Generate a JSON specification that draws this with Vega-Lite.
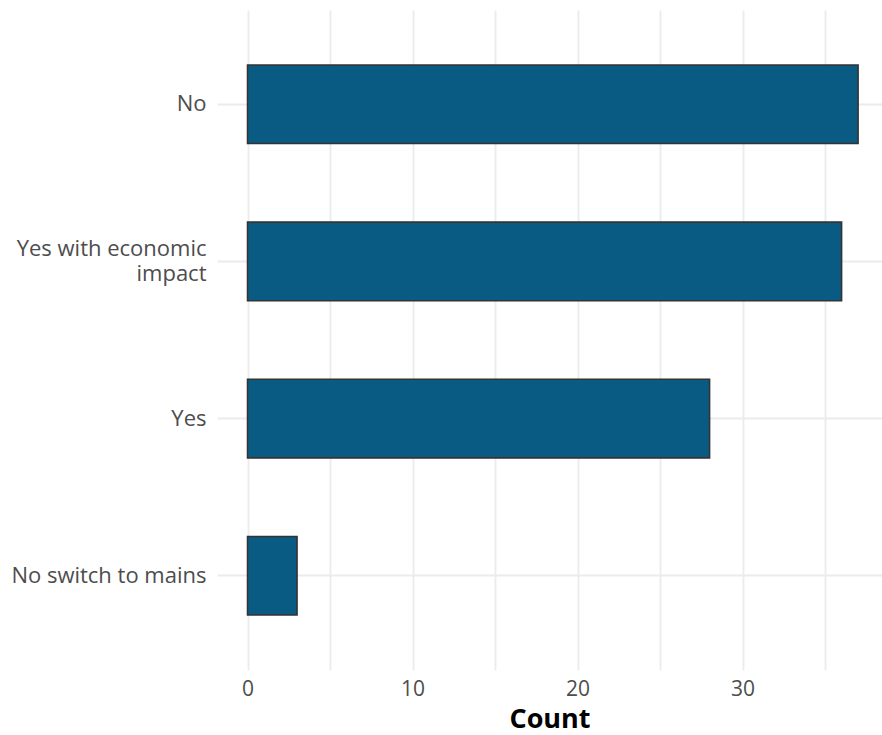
{
  "$schema": "https://vega.github.io/schema/vega-lite/v6.json",
  "width": 665,
  "height": 660,
  "autosize": {"type": "none"},
  "padding": {"left": 217, "top": 10, "right": 0, "bottom": 65},
  "background": "white",
  "config": {"view": {"stroke": null}, "font": "Open Sans"},
  "data": {"values": [
    {"answer": "No", "count": 37},
    {"answer": "Yes with economic impact", "count": 36},
    {"answer": "Yes", "count": 28},
    {"answer": "No switch to mains", "count": 3}
  ]},
  "mark": {"type": "bar", "fill": "#0a5b84", "stroke": "#333333", "strokeWidth": 1.6},
  "encoding": {
    "y": {
      "field": "answer", "type": "nominal",
      "sort": ["No", "Yes with economic impact", "Yes", "No switch to mains"],
      "scale": {"paddingInner": 0.5, "paddingOuter": 0.35},
      "axis": {
        "title": null, "domain": false, "ticks": false, "grid": true,
        "labelFont": "Open Sans", "labelFontSize": 22, "labelColor": "#4d4d4d",
        "labelPadding": 11, "labelLineHeight": 25, "labelLimit": 300,
        "labelOffset": {"condition": {"test": "datum.value == 'Yes with economic impact'", "value": -12.5}, "value": 0},
        "labelExpr": "datum.value == 'Yes with economic impact' ? ['Yes with economic', 'impact'] : datum.value",
        "gridColor": "#ebebeb", "gridWidth": 1.8
      }
    },
    "x": {
      "field": "count", "type": "quantitative",
      "scale": {"domain": [-1.85, 38.45], "nice": false, "zero": false},
      "axis": {
        "title": "Count", "titleFont": "Open Sans", "titleFontSize": 27, "titleFontWeight": "bold",
        "titleColor": "#000000", "titlePadding": 7,
        "values": [0, 5, 10, 15, 20, 25, 30, 35],
        "labelExpr": "datum.value % 10 == 0 ? datum.label : ''",
        "domain": false, "ticks": false,
        "labelFont": "Open Sans", "labelFontSize": 21, "labelColor": "#4d4d4d", "labelPadding": 8,
        "gridColor": "#ebebeb", "gridWidth": 1.8
      }
    }
  }
}
